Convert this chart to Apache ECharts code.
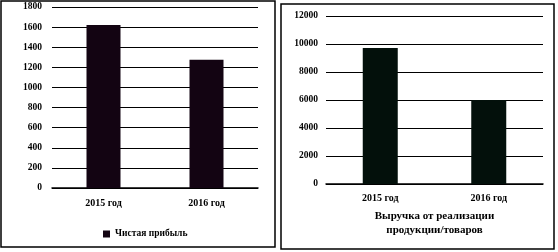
<!DOCTYPE html>
<html><head><meta charset="utf-8">
<script src="https://cdn.jsdelivr.net/npm/echarts@6/dist/echarts.min.js"></script>
<style>html,body{margin:0;padding:0;background:#fff}#c{width:558px;height:252px}</style>
</head><body><div id="c"></div>
<script>
const categories = ['2015 год', '2016 год'];
const profitValues = [1620, 1275];
const revenueValues = [9720, 6000];
const profitName = 'Чистая прибыль';
const revenueName = 'Выручка от реализации\nпродукции/товаров';

const font = 'Liberation Serif';
const plain = v => String(v);
const chart = echarts.init(document.getElementById('c'));
chart.setOption({
  animation: false,
  textStyle: { fontFamily: font, color: '#000' },
  graphic: [
    { type: 'rect', shape: { x: 1, y: 1, width: 274, height: 246 }, style: { fill: 'none', stroke: '#000', lineWidth: 1.5 } },
    { type: 'rect', shape: { x: 281, y: 4, width: 273, height: 245 }, style: { fill: 'none', stroke: '#000', lineWidth: 1.5 } }
  ],
  legend: {
    data: [profitName], left: 98, top: 224, itemWidth: 7, itemHeight: 7, itemGap: 3,
    icon: 'rect',
    textStyle: { fontFamily: font, fontSize: 9.5, color: '#000', fontWeight: 'bold' }
  },
  grid: [
    { left: 52, right: 300, top: 7, bottom: 64 },
    { left: 326, right: 15, top: 16, bottom: 68 }
  ],
  xAxis: [
    { type: 'category', gridIndex: 0, data: categories,
      axisLine: { lineStyle: { color: '#000', width: 1.5 } }, axisTick: { show: false },
      axisLabel: { color: '#000', fontFamily: font, fontSize: 10, fontWeight: 'bold', margin: 10 } },
    { type: 'category', gridIndex: 1, data: categories, name: revenueName,
      nameLocation: 'middle', nameGap: 25,
      nameTextStyle: { color: '#000', fontFamily: font, fontSize: 11, fontWeight: 'bold', lineHeight: 14 },
      axisLine: { lineStyle: { color: '#000', width: 1.5 } }, axisTick: { show: false },
      axisLabel: { color: '#000', fontFamily: font, fontSize: 10, fontWeight: 'bold', margin: 9 } }
  ],
  yAxis: [
    { type: 'value', gridIndex: 0, min: 0, max: 1800, interval: 200,
      axisLine: { show: false }, axisTick: { show: false },
      splitLine: { lineStyle: { color: '#000', width: 1 } },
      axisLabel: { color: '#000', fontFamily: font, fontSize: 9.5, fontWeight: 'bold', margin: 10, formatter: plain } },
    { type: 'value', gridIndex: 1, min: 0, max: 12000, interval: 2000,
      axisLine: { show: false }, axisTick: { show: false },
      splitLine: { lineStyle: { color: '#000', width: 1 } },
      axisLabel: { color: '#000', fontFamily: font, fontSize: 9.5, fontWeight: 'bold', margin: 8, formatter: plain } }
  ],
  series: [
    { name: profitName, type: 'bar', xAxisIndex: 0, yAxisIndex: 0, data: profitValues,
      barWidth: 34, itemStyle: { color: '#130412' } },
    { name: 'revenue', type: 'bar', xAxisIndex: 1, yAxisIndex: 1, data: revenueValues,
      barWidth: 35, itemStyle: { color: '#03100b' } }
  ]
});
</script></body></html>
